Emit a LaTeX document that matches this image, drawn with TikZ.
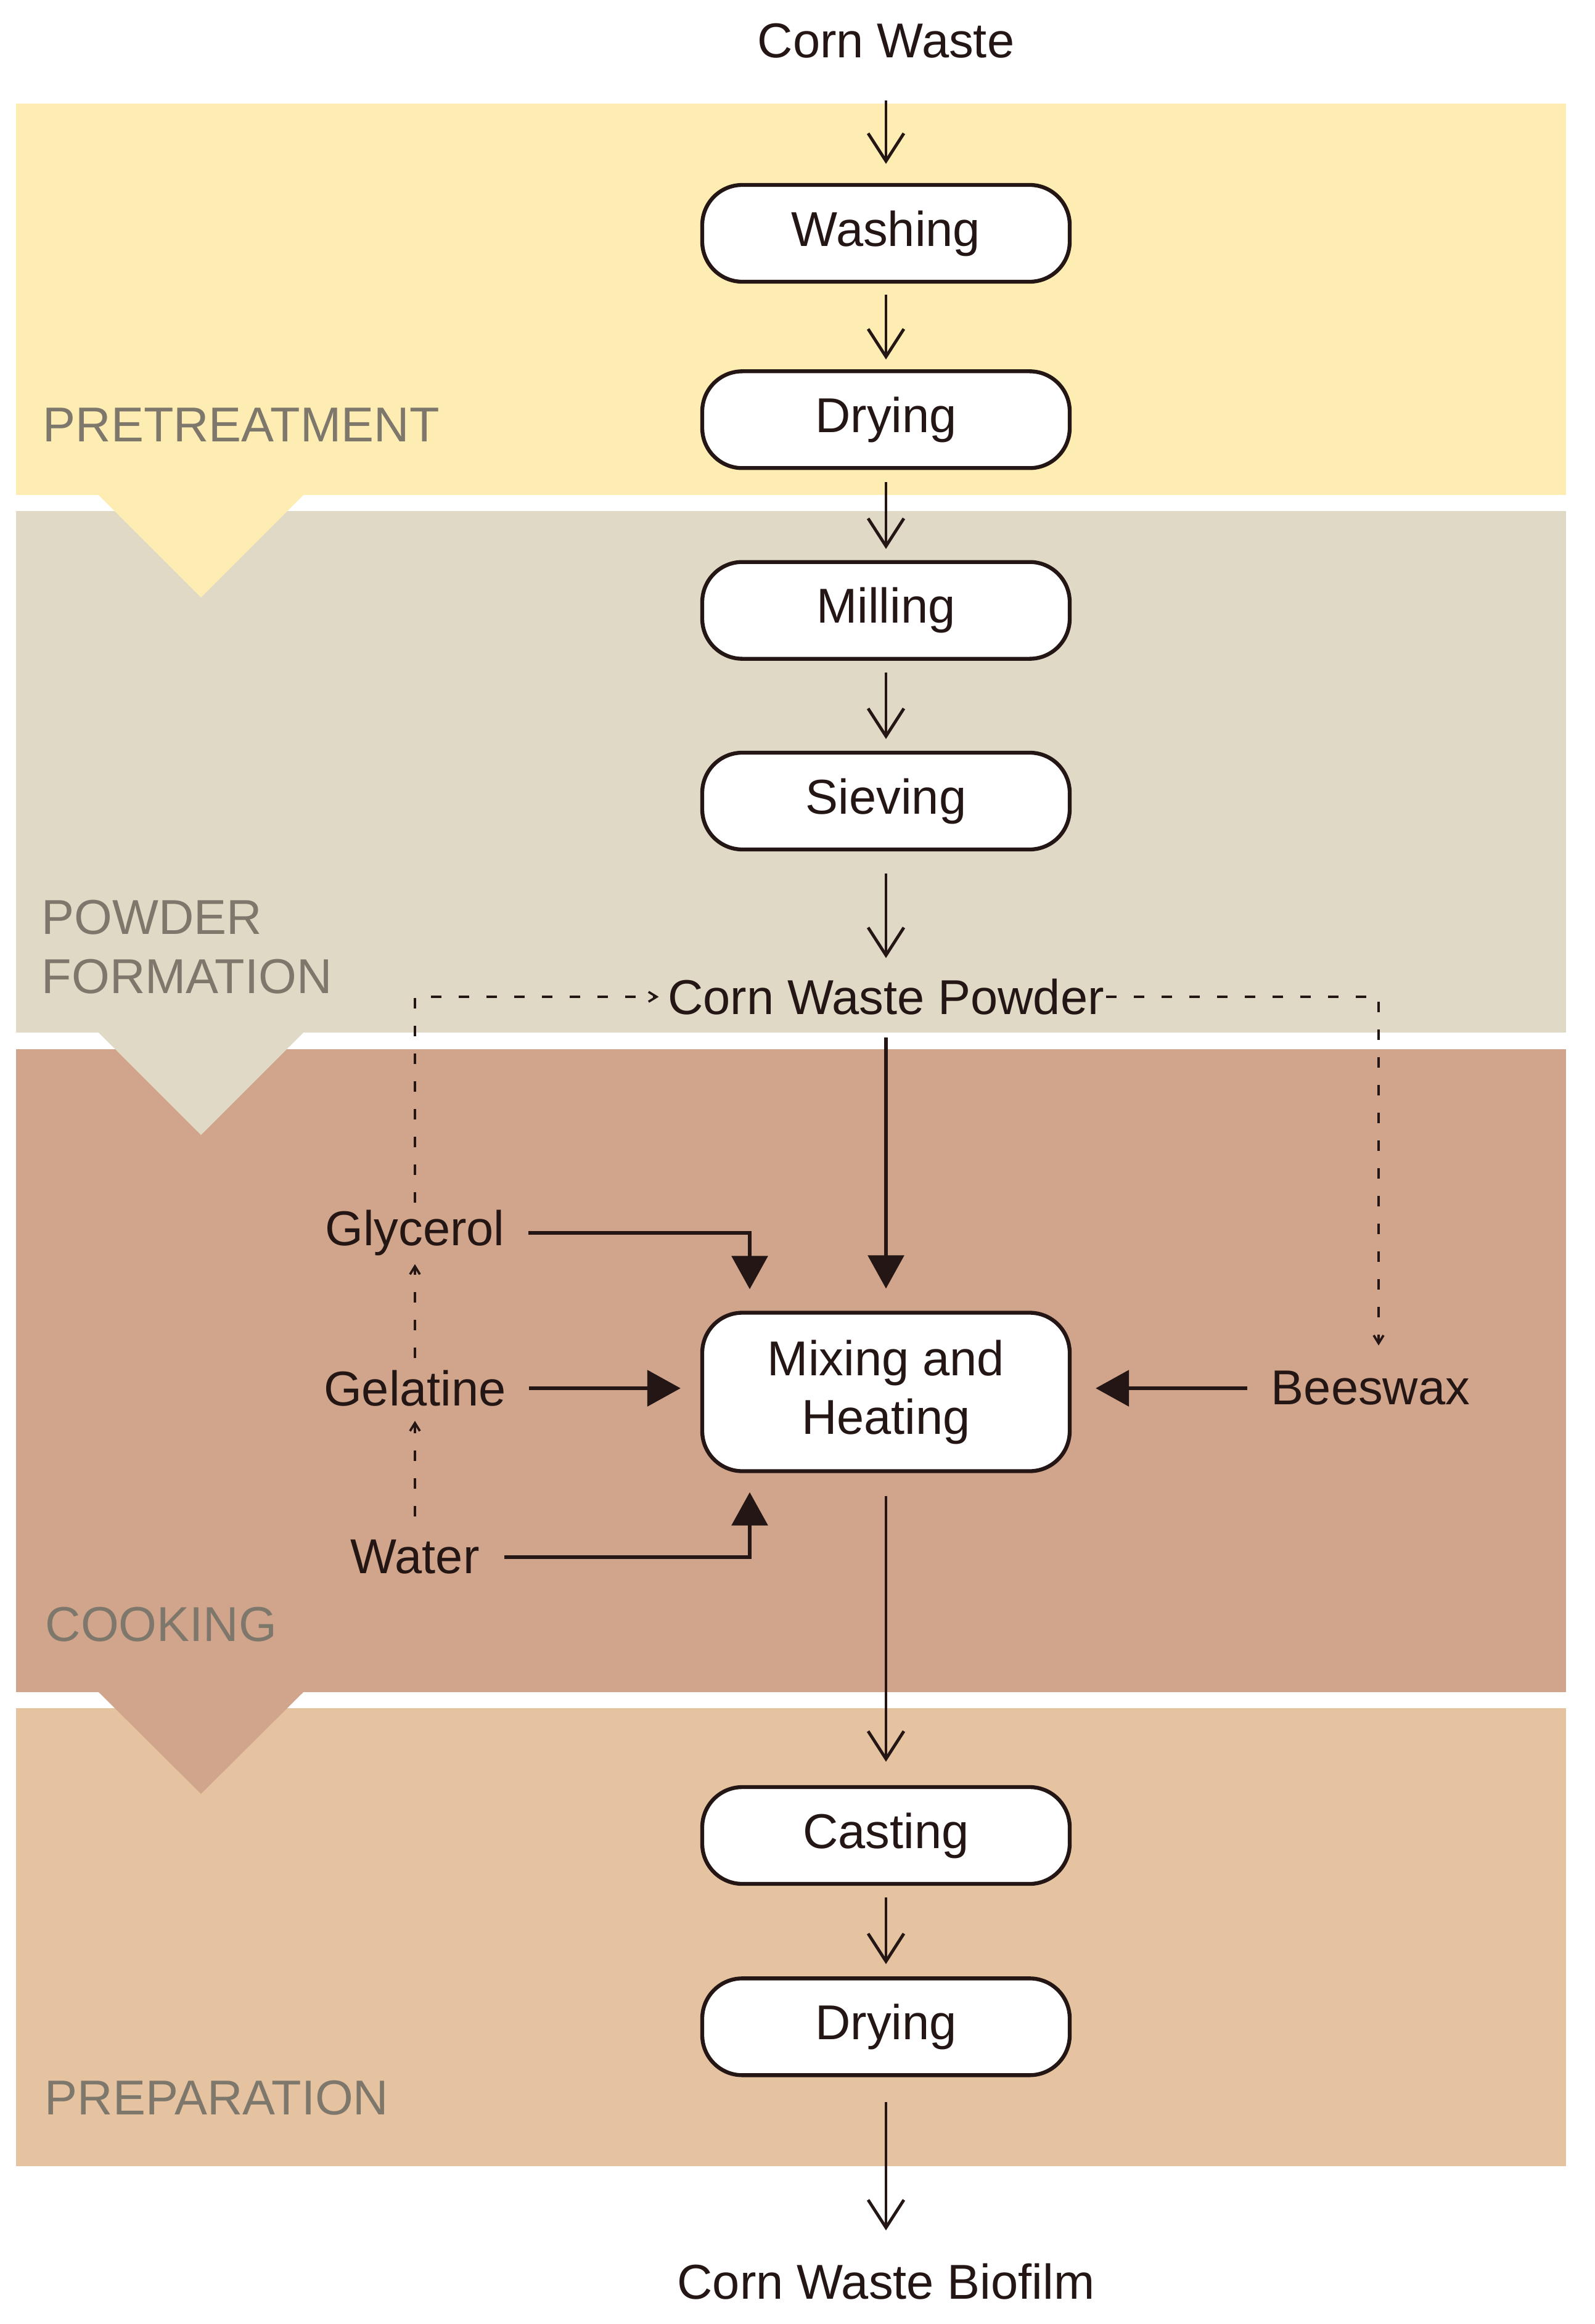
\documentclass[tikz,border=0pt]{standalone}
\usepackage{fontspec}
\setmainfont{Liberation Sans}
\usetikzlibrary{arrows.meta,positioning}
\definecolor{ink}{RGB}{35,22,20}
\definecolor{secgray}{RGB}{126,119,108}
\definecolor{preclr}{RGB}{254,237,178}
\definecolor{powclr}{RGB}{224,217,197}
\definecolor{cookclr}{RGB}{208,165,139}
\definecolor{prepclr}{RGB}{229,195,160}
\tikzset{
  %% process block
  pblk/.style={rectangle,rounded corners=0.65cm,draw=ink,line width=1.8pt,
    fill=white,minimum width=5.96cm,minimum height=1.57cm,
    font=\fontsize{22.6}{27}\selectfont,align=center,text=ink,inner sep=0pt},
  %% plain text
  lbl/.style={font=\fontsize{22.6}{27}\selectfont,text=ink,inner sep=0pt},
  %% section title
  sect/.style={font=\fontsize{22.6}{27.2}\selectfont,text=secgray,inner sep=0pt,
    align=left,anchor=south west},
  %% band fill
  band/.style={fill=#1,draw=none},
  %% arrows
  arr/.style={-{Straight Barb[length=0.45cm,width=0.58cm]},line width=1.4pt,draw=ink},
  farr/.style={-{Triangle[length=0.54cm,width=0.58cm]},line width=1.8pt,draw=ink},
  darr/.style={-{Straight Barb[length=0.13cm,width=0.16cm]},line width=1.05pt,
    draw=ink,dash pattern=on 0.17cm off 0.28cm},
}

\begin{document}
\begin{tikzpicture}
  \useasboundingbox (0,0) rectangle (25.86,-37.70);
  \fill[white] (0,0) rectangle (25.86,-37.70);

  %% Bands
  \fill[band=preclr]  (0.26,-1.68)  rectangle (25.40,-8.03);
  \fill[band=powclr]  (0.26,-8.29)  rectangle (25.40,-16.75);
  \fill[band=cookclr] (0.26,-17.02) rectangle (25.40,-27.45);
  \fill[band=prepclr] (0.26,-27.71) rectangle (25.40,-35.14);

  %% Chevrons
  \fill[band=preclr]  (1.57,-8.00)  -- (4.95,-8.00)  -- (3.26,-9.69)  -- cycle;
  \fill[band=powclr]  (1.57,-16.72) -- (4.95,-16.72) -- (3.26,-18.41) -- cycle;
  \fill[band=cookclr] (1.57,-27.42) -- (4.95,-27.42) -- (3.26,-29.10) -- cycle;

  %% Section titles
  \node[sect] (tpre)  at (0.69,-7.17)  {PRETREATMENT};
  \node[sect] (tpow)  at (0.67,-16.13) {POWDER\\FORMATION};
  \node[sect] (tcook) at (0.73,-26.64) {COOKING};
  \node[sect] (tprep) at (0.72,-34.32) {PREPARATION};

  %% Main column
  \node[lbl]  (cw)   at (14.37,-0.66)   {Corn Waste};
  \node[pblk] (wash) at (14.37,-3.785)  {Washing};
  \node[pblk,below=1.39cm of wash] (dry)  {Drying};
  \node[pblk,below=1.46cm of dry]  (mill) {Milling};
  \node[pblk,below=1.46cm of mill] (siev) {Sieving};
  \node[lbl]  (cwp)  at (14.37,-16.17)  {Corn Waste Powder};
  \node[pblk,minimum height=2.57cm] (mix) at (14.37,-22.58) {Mixing and\\Heating};
  \node[pblk] (cast) at (14.37,-29.775) {Casting};
  \node[pblk,below=1.47cm of cast] (dryb) {Drying};
  \node[lbl]  (bio)  at (14.37,-37.01)  {Corn Waste Biofilm};

  %% Additives
  \node[lbl] (glyc) at (6.73,-20.00)  {Glycerol};
  \node[lbl] (gel)  at (6.73,-22.52)  {Gelatine};
  \node[lbl] (wat)  at (6.73,-25.26)  {Water};
  \node[lbl] (bees) at (22.23,-22.52) {Beeswax};

  %% Main column arrows
  \draw[arr,shorten <=0.68cm,shorten >=0.31cm] (cw.south)   -- (wash.north);
  \draw[arr,shorten <=0.18cm,shorten >=0.16cm] (wash.south) -- (dry.north);
  \draw[arr,shorten <=0.20cm,shorten >=0.18cm] (dry.south)  -- (mill.north);
  \draw[arr,shorten <=0.19cm,shorten >=0.19cm] (mill.south) -- (siev.north);
  \draw[arr,shorten <=0.36cm,shorten >=0.33cm] (siev.south) -- (cwp.north);
  \draw[farr,shorten <=0.36cm,shorten >=0.36cm] (cwp.south) -- (mix.north);
  \draw[arr,shorten <=0.37cm,shorten >=0.38cm] (mix.south)  -- (cast.north);
  \draw[arr,shorten <=0.19cm,shorten >=0.20cm] (cast.south) -- (dryb.north);
  \draw[arr,shorten <=0.40cm,shorten >=0.53cm] (dryb.south) -- (bio.north);

  %% Additive arrows
  \draw[farr,shorten <=0.38cm,shorten >=0.35cm] (glyc.east) -| ([xshift=-2.21cm]mix.north);
  \draw[farr,shorten <=0.36cm,shorten >=0.32cm] (gel.east) -- (gel.east -| mix.west);
  \draw[farr,shorten <=0.40cm,shorten >=0.31cm] (wat.east) -| ([xshift=-2.21cm]mix.south);
  \draw[farr,shorten <=0.38cm,shorten >=0.39cm] (bees.west) -- (bees.west -| mix.east);

  %% Dashed links
  \draw[darr,shorten <=0.11cm,shorten >=0.14cm] (glyc.north) |- (cwp.west);
  \draw[darr,shorten <=0.19cm,shorten >=0.13cm] (gel.north) -- (glyc.south);
  \draw[darr,shorten <=0.38cm,shorten >=0.23cm] (wat.north) -- (gel.south);
  \draw[darr,shorten <=0.02cm,shorten >=0.41cm] (cwp.east) -| ([xshift=0.13cm]bees.north);

\end{tikzpicture}
\end{document}
